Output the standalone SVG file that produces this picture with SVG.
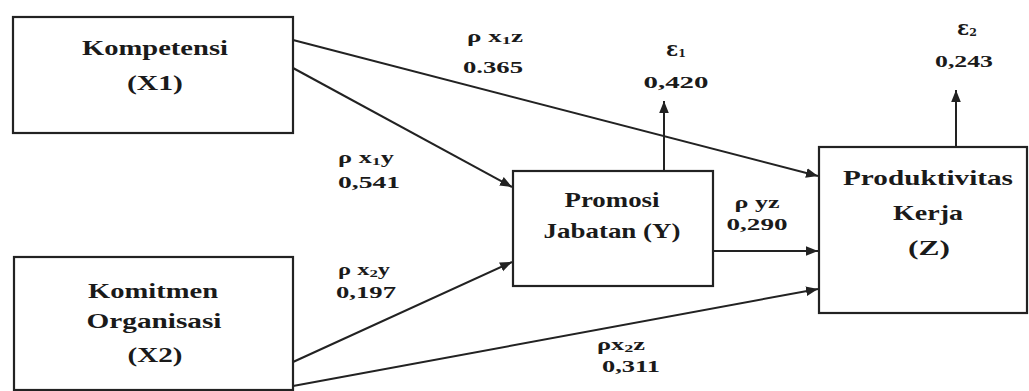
<svg xmlns="http://www.w3.org/2000/svg" width="1029" height="391" viewBox="0 0 1029 391">
<style>
.box{fill:#fff;stroke:#222;stroke-width:2.2}
.nl{font-family:"Liberation Serif",serif;font-weight:bold;font-size:22px;fill:#1a1a1a;text-anchor:middle}
.lb{font-family:"Liberation Serif",serif;font-weight:bold;font-size:16px;fill:#1a1a1a;text-anchor:middle}
.eps{font-family:"DejaVu Serif",serif;font-weight:bold;font-size:20px;fill:#1a1a1a;text-anchor:middle}
.ln{fill:none;stroke:#222;stroke-width:2;marker-end:url(#ah)}
</style>
<defs>
<marker id="ah" viewBox="0 0 10 10" refX="10" refY="5" markerWidth="6" markerHeight="6" markerUnits="strokeWidth" orient="auto">
<path d="M0,1 L10,5 L0,9 Z" fill="#222"/>
</marker>
</defs>
<rect width="1029" height="391" fill="#fff"/>
<g id="connectors">
<line class="ln" x1="293" y1="40" x2="818" y2="176"/>
<line class="ln" x1="293" y1="68" x2="512" y2="187"/>
<line class="ln" x1="293" y1="362" x2="512" y2="262"/>
<line class="ln" x1="293" y1="386" x2="818" y2="289"/>
<line class="ln" x1="713" y1="251" x2="818" y2="251"/>
<line class="ln" x1="664" y1="171" x2="664" y2="101"/>
<line class="ln" x1="956" y1="147" x2="956" y2="90"/>
</g>
<g id="X1">
<rect class="box" x="13" y="17" width="280" height="116"/>
<text class="nl" x="155" y="55" textLength="146" lengthAdjust="spacingAndGlyphs">Kompetensi</text>
<text class="nl" x="155" y="90" textLength="56" lengthAdjust="spacingAndGlyphs">(X1)</text>
</g>
<g id="X2">
<rect class="box" x="14" y="257" width="279" height="133"/>
<text class="nl" x="153" y="298" textLength="130" lengthAdjust="spacingAndGlyphs">Komitmen</text>
<text class="nl" x="154" y="328" textLength="135" lengthAdjust="spacingAndGlyphs">Organisasi</text>
<text class="nl" x="155" y="362" textLength="55" lengthAdjust="spacingAndGlyphs">(X2)</text>
</g>
<g id="Y">
<rect class="box" x="513" y="171" width="200" height="115"/>
<text class="nl" x="612" y="207" textLength="95" lengthAdjust="spacingAndGlyphs">Promosi</text>
<text class="nl" x="612" y="238" textLength="137" lengthAdjust="spacingAndGlyphs">Jabatan (Y)</text>
</g>
<g id="Z">
<rect class="box" x="819" y="147" width="208" height="166"/>
<text class="nl" x="928" y="185" textLength="170" lengthAdjust="spacingAndGlyphs">Produktivitas</text>
<text class="nl" x="928" y="220" textLength="70" lengthAdjust="spacingAndGlyphs">Kerja</text>
<text class="nl" x="929" y="255" textLength="42" lengthAdjust="spacingAndGlyphs">(Z)</text>
</g>
<g id="labels">
<text class="lb" x="495" y="42" textLength="56" lengthAdjust="spacingAndGlyphs">ρ x<tspan font-size="11" dy="2">1</tspan><tspan dy="-2">z</tspan></text>
<text class="lb" x="493" y="73" textLength="60" lengthAdjust="spacingAndGlyphs">0.365</text>
<text class="eps" x="676" y="56">ε<tspan font-size="11" dy="1">1</tspan></text>
<text class="lb" x="676" y="88" textLength="65" lengthAdjust="spacingAndGlyphs">0,420</text>
<text class="eps" x="967" y="35">ε<tspan font-size="11" dy="1">2</tspan></text>
<text class="lb" x="964" y="67" textLength="58" lengthAdjust="spacingAndGlyphs">0,243</text>
<text class="lb" x="366" y="163" textLength="56" lengthAdjust="spacingAndGlyphs">ρ x<tspan font-size="11" dy="2">1</tspan><tspan dy="-2">y</tspan></text>
<text class="lb" x="369" y="188" textLength="62" lengthAdjust="spacingAndGlyphs">0,541</text>
<text class="lb" x="364" y="275" textLength="52" lengthAdjust="spacingAndGlyphs">ρ x<tspan font-size="11" dy="2">2</tspan><tspan dy="-2">y</tspan></text>
<text class="lb" x="366" y="298" textLength="60" lengthAdjust="spacingAndGlyphs">0,197</text>
<text class="lb" x="757" y="208" textLength="45" lengthAdjust="spacingAndGlyphs">ρ yz</text>
<text class="lb" x="757" y="230" textLength="61" lengthAdjust="spacingAndGlyphs">0,290</text>
<text class="lb" x="621" y="350" textLength="48" lengthAdjust="spacingAndGlyphs">ρx<tspan font-size="11" dy="2">2</tspan><tspan dy="-2">z</tspan></text>
<text class="lb" x="631" y="372" textLength="58" lengthAdjust="spacingAndGlyphs">0,311</text>
</g>
</svg>
